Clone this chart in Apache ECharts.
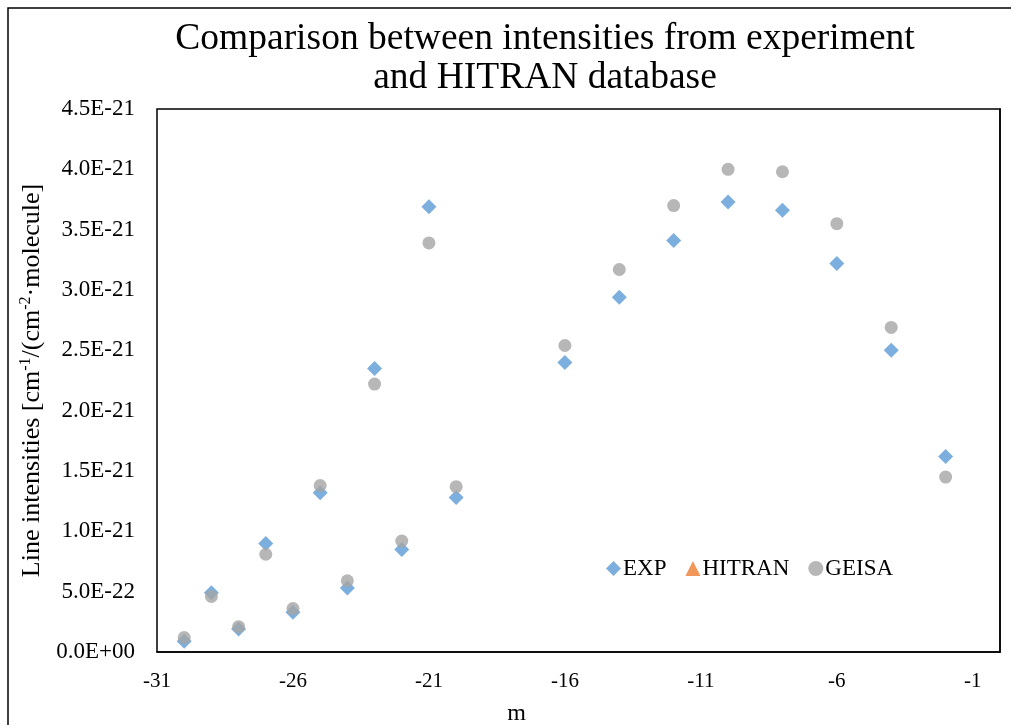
<!DOCTYPE html>
<html>
<head>
<meta charset="utf-8">
<script src="https://cdn.jsdelivr.net/npm/echarts@6/dist/echarts.min.js"></script>
<style>
  html, body { margin: 0; padding: 0; background: #fff; }
  #chart { width: 1011px; height: 725px; }
</style>
</head>
<body>
<div id="chart"></div>
<script>
// Rotational quantum number m for each measured line
const mValues = [-30, -29, -28, -27, -26, -25, -24, -23, -22, -21, -20, -16, -14, -12, -10, -8, -6, -4, -2];

// Line intensities in units of 1E-21 cm^-1/(cm^-2·molecule)
const INTENSITY_UNIT = 1e-21;
const expIntensity = [
  0.09, 0.49, 0.19, 0.90, 0.33, 1.32, 0.53, 2.35, 0.85, 3.69,
  1.28, 2.40, 2.94, 3.41, 3.73, 3.66, 3.22, 2.50, 1.62
];
const hitranIntensity = [];
const geisaIntensity = [
  0.12, 0.46, 0.21, 0.81, 0.36, 1.38, 0.59, 2.22, 0.92, 3.39,
  1.37, 2.54, 3.17, 3.70, 4.00, 3.98, 3.55, 2.69, 1.45
];

const seriesNames = ['EXP', 'HITRAN', 'GEISA'];

const pair = (xs, ys) => ys.map((y, i) => [xs[i], y]);

// Scientific label like 4.5E-21 / 0.0E+00
function sci(v) {
  if (v === 0) return '0.0E+00';
  const [mant, exp] = v.toExponential(1).split('e');
  const e = parseInt(exp, 10);
  const sign = e < 0 ? '-' : '+';
  const digits = String(Math.abs(e)).padStart(2, '0');
  return mant + 'E' + sign + digits;
}

const FONT = '"Liberation Serif", "Times New Roman", serif';
const chart = echarts.init(document.getElementById('chart'), null, { renderer: 'canvas' });

chart.setOption({
  backgroundColor: '#ffffff',
  animation: false,
  textStyle: { fontFamily: FONT, color: '#000' },
  graphic: [{
    type: 'rect',
    shape: { x: 8, y: 8, width: 1200, height: 900 },
    style: { fill: 'none', stroke: '#000', lineWidth: 1.5 },
    silent: true, z: -10
  }],
  title: {
    text: 'Comparison between intensities from experiment\nand HITRAN database',
    left: 540,
    top: 15,
    textAlign: 'center',
    textStyle: { fontFamily: FONT, fontSize: 37.5, fontWeight: 'normal', lineHeight: 39, color: '#000' }
  },
  legend: {
    left: 601,
    top: 552,
    itemWidth: 15,
    itemHeight: 15,
    itemGap: 19,
    data: [
      { name: 'EXP', icon: 'diamond' },
      { name: 'HITRAN', icon: 'triangle' },
      { name: 'GEISA', icon: 'circle' }
    ],
    textStyle: { fontFamily: FONT, fontSize: 23, color: '#000', padding: [0, 0, 0, -3] }
  },
  grid: {
    left: 157, right: 11, top: 109, bottom: 73,
    outerBoundsMode: 'none',
    containLabel: false,
    show: true, borderColor: '#000', borderWidth: 1.5, backgroundColor: 'transparent'
  },
  xAxis: {
    type: 'value',
    min: -31, max: 0, interval: 5,
    name: 'm',
    nameLocation: 'middle',
    nameGap: 50,
    nameTextStyle: { fontFamily: FONT, fontSize: 24, color: '#000', padding: [0, 124, 0, 0] },
    axisLine: { show: true, onZero: false, lineStyle: { color: '#000', width: 1.5 } },
    axisTick: { show: false },
    splitLine: { show: false },
    axisLabel: { showMaxLabel: false, margin: 19, fontFamily: FONT, fontSize: 21, color: '#000' }
  },
  yAxis: {
    type: 'value',
    min: 0, max: 4.5, interval: 0.5,
    name: '{a|Line intensities [cm}{s|-1}{a|/(cm}{s|-2}{a|·molecule]}',
    nameLocation: 'middle',
    nameGap: 111,
    nameTextStyle: {
      fontFamily: FONT, fontSize: 26, color: '#000',
      rich: {
        a: { fontFamily: FONT, fontSize: 26, color: '#000' },
        s: { fontFamily: FONT, fontSize: 16, color: '#000', padding: [0, 0, 12, 0] }
      }
    },
    axisLine: { show: true, lineStyle: { color: '#000', width: 1.5 } },
    axisTick: { show: false },
    splitLine: { show: false },
    axisLabel: {
      margin: 22, fontFamily: FONT, fontSize: 23, color: '#000',
      formatter: v => sci(v * INTENSITY_UNIT)
    }
  },
  series: [
    {
      name: seriesNames[0], type: 'scatter', symbol: 'diamond', symbolSize: 15,
      itemStyle: { color: '#5B9BD5' },
      data: pair(mValues, expIntensity)
    },
    {
      name: seriesNames[1], type: 'scatter', symbol: 'triangle', symbolSize: 14,
      itemStyle: { color: '#ED7D31' },
      data: pair(mValues, hitranIntensity)
    },
    {
      name: seriesNames[2], type: 'scatter', symbol: 'circle', symbolSize: 13,
      itemStyle: { color: '#A5A5A5' },
      data: pair(mValues, geisaIntensity)
    }
  ]
});
</script>
</body>
</html>
